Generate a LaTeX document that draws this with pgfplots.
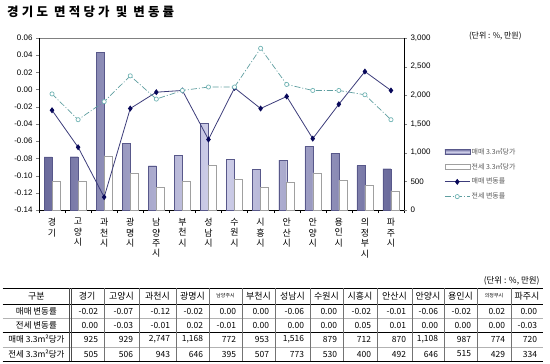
\documentclass[border=0pt]{standalone}
\usepackage{fontspec}
\setmainfont{Liberation Sans}
\newfontfamily\kr{Noto Sans CJK KR}
\newfontfamily\krt[LetterSpace=26]{Noto Sans CJK KR}
\usepackage{pgfplots}
\pgfplotsset{compat=1.18}
\definecolor{barA}{HTML}{6A6A9C}
\definecolor{barAl}{HTML}{D2D2EC}
\definecolor{barAedge}{HTML}{58588A}
\definecolor{barBedge}{HTML}{A0A0A0}
\definecolor{lineA}{HTML}{3C3C7A}
\definecolor{markA}{HTML}{08085A}
\definecolor{lineB}{HTML}{5F9EA0}
\definecolor{markB}{HTML}{70B4B4}
\begin{document}
\begin{tikzpicture}[x=1bp,y=1bp]
\useasboundingbox (0,0) rectangle (550,363);
% title
\node[anchor=west, inner sep=0pt, font=\krt\bfseries\fontsize{12.5}{14}\selectfont] at (7,351) {경기도 면적당가 및 변동률};
\node[anchor=east, font=\kr\fontsize{8}{9}\selectfont] at (525,327) {(단위 : \%, 만원)};

% bars, right axis
\begin{axis}[
  at={(39bp,153bp)}, anchor=south west,
  width=365bp, height=172bp, scale only axis,
  xmin=-0.5, xmax=13.5, ymin=0, ymax=3000,
  ybar=0pt, bar width=8bp,
  axis x line*=bottom, axis y line*=right,
  axis line style={black, line width=0.6bp},
  xtick={0,...,13},
  xticklabels={{경\\기},{고\\양\\시},{과\\천\\시},{광\\명\\시},{남\\양\\주\\시},{부\\천\\시},{성\\남\\시},{수\\원\\시},{시\\흥\\시},{안\\산\\시},{안\\양\\시},{용\\인\\시},{의\\정\\부\\시},{파\\주\\시}},
  xticklabel style={font=\kr\fontsize{9}{10.5}\selectfont, align=center, anchor=north, inner sep=0pt, yshift=-5bp},
  major x tick style={draw=none},
  minor xtick={-0.5,0.5,...,13.5},
  minor x tick style={black},
  minor tick length=3bp,
  major tick length=3bp,
  tick align=outside,
  ytick={0,500,1000,1500,2000,2500,3000},
  yticklabel style={font=\fontsize{8}{9}\selectfont, /pgf/number format/.cd, 1000 sep={,}, assume math mode=true},
]
\addplot[ybar, draw=barAedge, line width=0.3bp, left color=barA, right color=barA, middle color=barAl] coordinates {
(0,925) (1,929) (2,2747) (3,1168) (4,772) (5,953) (6,1516) (7,879) (8,712) (9,870) (10,1108) (11,987) (12,774) (13,720)};
\addplot[ybar, draw=barBedge, line width=0.5bp, fill=white] coordinates {
(0,505) (1,506) (2,943) (3,646) (4,395) (5,507) (6,773) (7,530) (8,400) (9,492) (10,646) (11,515) (12,429) (13,334)};
\end{axis}

% lines, left axis
\begin{axis}[
  at={(39bp,153bp)}, anchor=south west,
  width=365bp, height=172bp, scale only axis,
  xmin=-0.5, xmax=13.5, ymin=-0.14, ymax=0.06,
  axis y line*=left, axis x line*=top, xtick=\empty,
  y axis line style={black, line width=0.6bp},
  x axis line style={gray, line width=0.6bp},
  ytick={-0.14,-0.12,-0.1,-0.08,-0.06,-0.04,-0.02,0,0.02,0.04,0.06},
  yticklabel style={font=\fontsize{8}{9}\selectfont, /pgf/number format/.cd, fixed, fixed zerofill, precision=2, assume math mode=true},
  tick align=outside, major tick length=3bp,
  legend image code/.code={\draw[mark repeat=2,mark phase=2,#1] plot coordinates {(0bp,0bp) (12.5bp,0bp) (25bp,0bp)};},
  legend style={at={(1.11,0.37)}, anchor=north west, draw=none, fill=none,
    font=\kr\fontsize{7}{8}\selectfont, text=black!65, row sep=4.5bp, inner sep=0pt,
    nodes={inner sep=1.5bp}},
  legend cell align=left,
]
\addlegendimage{legend image code/.code={\draw[draw=barAedge, line width=0.3bp, top color=barA, bottom color=barA, middle color=barAl] (0bp,-2.5bp) rectangle (25bp,2.5bp);}}
\addlegendimage{legend image code/.code={\draw[draw=barBedge, line width=0.5bp, fill=white] (0bp,-2.5bp) rectangle (25bp,2.5bp);}}
\addplot[lineA, line width=0.8bp, mark=diamond*, mark size=2.4bp, mark options={fill=markA, draw=markA, solid}] coordinates {
(0,-0.024) (1,-0.067) (2,-0.125) (3,-0.022) (4,-0.003) (5,-0.001) (6,-0.058) (7,0.002) (8,-0.022) (9,-0.008) (10,-0.057) (11,-0.017) (12,0.021) (13,-0.001)};
\addplot[lineB, line width=0.7bp, dash pattern=on 6bp off 2bp on 1bp off 2bp, mark=*, mark size=2.1bp, mark options={fill=white, draw=markB, solid, line width=0.7bp}] coordinates {
(0,-0.005) (1,-0.035) (2,-0.014) (3,0.016) (4,-0.011) (5,-0.001) (6,0.003) (7,0.003) (8,0.048) (9,0.006) (10,-0.001) (11,-0.001) (12,-0.006) (13,-0.035)};
\legend{매매 3.3㎡당가, 전세 3.3㎡당가, 매매 변동률, 전세 변동률}
\end{axis}

% table
\node[anchor=east, font=\kr\fontsize{8.5}{9}\selectfont] at (543,82) {(단위 : \%, 만원)};
\draw[line width=0.9bp] (2.7,75) -- (543,75);
\draw[line width=0.6bp] (2.7,59) -- (543,59);
\draw[line width=0.3bp, black!30] (2.7,45) -- (543,45);
\draw[line width=0.9bp] (2.7,31) -- (543,31);
\draw[line width=0.3bp, black!30] (2.7,16) -- (543,16);
\draw[line width=0.9bp] (2.7,2) -- (543,2);
\foreach \x in {104,139,176,209,242,275,310,343,377,412,444,477,511} \draw[black!55, line width=0.4bp] (\x,75) -- (\x,2);
\draw[black!70, line width=0.5bp] (68.8,75) -- (68.8,2);
\draw[black!70, line width=0.5bp] (71.2,75) -- (71.2,2);
\node[font=\kr\fontsize{9}{10}\selectfont] at (36.4,67) {구분};
\node[font=\kr\fontsize{8.5}{10}\selectfont] at (36.4,52) {매매 변동률};
\node[font=\kr\fontsize{8.5}{10}\selectfont] at (36.4,38) {전세 변동률};
\node[font=\kr\fontsize{8.5}{10}\selectfont] at (36.4,23.5) {매매 3.3m²당가};
\node[font=\kr\fontsize{8.5}{10}\selectfont] at (36.4,9) {전세 3.3m²당가};
\foreach \xc/\xr/\h/\a/\b/\c/\d in {
  87/104/경기/-0.02/0.00/925/505,
  121.5/139/고양시/-0.07/-0.03/929/506,
  157.5/176/과천시/-0.12/-0.01/{2,747}/943,
  192.5/209/광명시/-0.02/0.02/{1,168}/646,
  225.5/242/{\fontsize{5}{6}\selectfont 남양주시}/0.00/-0.01/772/395,
  258.5/275/부천시/0.00/0.00/953/507,
  292.5/310/성남시/-0.06/0.00/{1,516}/773,
  326.5/343/수원시/0.00/0.00/879/530,
  360/377/시흥시/-0.02/0.05/712/400,
  394.5/412/안산시/-0.01/0.01/870/492,
  428/444/안양시/-0.06/0.00/{1,108}/646,
  460.5/477/용인시/-0.02/0.00/987/515,
  494/511/{\fontsize{5}{6}\selectfont 의정부시}/0.02/0.00/774/429,
  527/543/파주시/0.00/-0.03/720/334} {
  \node[inner sep=0pt, font=\kr\fontsize{9}{10}\selectfont] at (\xc,67) {\h};
  \node[anchor=east, font=\kr\fontsize{8.5}{9}\selectfont] at (\xr-2.5,52) {\a};
  \node[anchor=east, font=\kr\fontsize{8.5}{9}\selectfont] at (\xr-2.5,38) {\b};
  \node[anchor=east, font=\kr\fontsize{8.5}{9}\selectfont] at (\xr-2.5,23.5) {\c};
  \node[anchor=east, font=\kr\fontsize{8.5}{9}\selectfont] at (\xr-2.5,9) {\d};
}
\end{tikzpicture}
\end{document}
